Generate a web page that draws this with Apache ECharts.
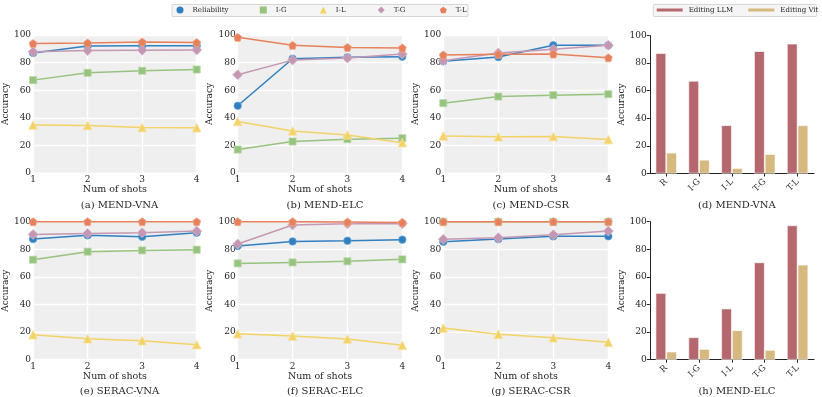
<!DOCTYPE html>
<html><head><meta charset="utf-8">
<script src="https://cdn.jsdelivr.net/npm/echarts@6/dist/echarts.min.js"></script>
<style>html,body{margin:0;padding:0;background:#fff}#c{width:822px;height:397px}</style>
</head><body><div id="c"></div>
<script>
// ---- data ----
const shots = [1, 2, 3, 4];
const seriesNames = ['Reliability', 'I-G', 'I-L', 'T-G', 'T-L'];
const barCats = ['R', 'I-G', 'I-L', 'T-G', 'T-L'];
const barNames = ['Editing LLM', 'Editing Vit'];
const yTicks = [0, 20, 40, 60, 80, 100];

// (a) MEND-VNA
const aRel = [87, 92, 92.3, 92.3];
const aIG  = [67.3, 72.6, 74.1, 75];
const aIL  = [34.8, 34.5, 33, 32.8];
const aTG  = [87.8, 88.7, 89, 89.2];
const aTL  = [93.8, 94.2, 94.9, 94.5];
// (b) MEND-ELC
const bRel = [48.7, 82.8, 83.8, 84.3];
const bIG  = [17, 22.8, 24.5, 25.2];
const bIL  = [37.3, 30.5, 27.6, 22];
const bTG  = [71.2, 81.8, 83.3, 86.2];
const bTL  = [98.3, 92.5, 91, 90.6];
// (c) MEND-CSR
const cRel = [81, 84, 92.5, 92.5];
const cIG  = [50.6, 55.4, 56.4, 57.1];
const cIL  = [26.9, 26.2, 26.4, 24.2];
const cTG  = [81.4, 86.9, 89.6, 92.5];
const cTL  = [85.5, 86, 86.2, 83.5];
// (e) SERAC-VNA
const eRel = [87.4, 90.1, 89.1, 92];
const eIG  = [72.5, 78.3, 79.2, 79.7];
const eIL  = [18.1, 15.2, 13.8, 10.9];
const eTG  = [90.8, 91.5, 92, 93.2];
const eTL  = [100, 100, 100, 100];
// (f) SERAC-ELC
const fRel = [82.4, 85.7, 86.2, 87];
const fIG  = [69.8, 70.5, 71.3, 72.7];
const fIL  = [18.8, 17.1, 15, 10.4];
const fTG  = [83.8, 97.6, 98.5, 98.5];
const fTL  = [100, 100, 99.8, 99.5];
// (g) SERAC-CSR
const gRel = [85.5, 87.4, 89.4, 89.4];
const gIG  = [100, 100, 100, 100];
const gIL  = [22.9, 18.4, 15.9, 12.6];
const gTG  = [87.2, 88.4, 90.6, 93.2];
const gTL  = [100, 100, 100, 100];
// (d) MEND-VNA bars
const dLLM = [87.2, 67.1, 34.9, 88.6, 94];
const dVit = [15, 9.9, 3.9, 14, 34.9];
// (h) MEND-ELC bars
const hLLM = [48.3, 16.2, 37, 70.5, 97.3];
const hVit = [5.8, 7.7, 21.3, 7, 68.8];

// ---- styling ----
const FONT = 'DejaVu Serif';
const TXT = '#262626';
const lineColors = ['#2F7FC1', '#96C37D', '#F3D266', '#C497B2', '#E7815B'];
const edgeColors = ['#6aa3d6', '#b5d6a3', '#f7e09a', '#d8b8cb', '#efa589'];
const barColors = ['#B4686E', '#D5B97F'];
const PENT = 'path://M0,-10 L9.51,-3.09 L5.88,8.09 L-5.88,8.09 L-9.51,-3.09 Z';
const symbols = ['circle', 'rect', 'triangle', 'diamond', PENT];
const symSizes = [7.5, 7, 8.5, 10, 8];

const lineGrids = [
  {l: 32.3, t: 35, w: 164.4, title: '(a) MEND-VNA', data: [aRel, aIG, aIL, aTG, aTL]},
  {l: 237.7, t: 35, w: 164.6, title: '(b) MEND-ELC', data: [bRel, bIG, bIL, bTG, bTL]},
  {l: 443.3, t: 35, w: 165, title: '(c) MEND-CSR', data: [cRel, cIG, cIL, cTG, cTL]},
  {l: 32.3, t: 221.7, w: 164.4, title: '(e) SERAC-VNA', data: [eRel, eIG, eIL, eTG, eTL]},
  {l: 237.7, t: 221.7, w: 164.6, title: '(f) SERAC-ELC', data: [fRel, fIG, fIL, fTG, fTL]},
  {l: 443.3, t: 221.7, w: 165, title: '(g) SERAC-CSR', data: [gRel, gIG, gIL, gTG, gTL]}
];
const barGrids = [
  {l: 649.8, t: 35.5, w: 164.2, title: '(d) MEND-VNA', data: [dLLM, dVit]},
  {l: 649.8, t: 221.7, w: 164.2, title: '(h) MEND-ELC', data: [hLLM, hVit]}
];
const H = 138;

const grid = [], xAxis = [], yAxis = [], series = [], title = [];
lineGrids.forEach((g, i) => {
  grid.push({left: g.l, top: g.t, width: g.w, height: H, show: true, backgroundColor: '#efefef', borderWidth: 0});
  xAxis.push({type: 'value', gridIndex: i, min: 1, max: 4, interval: 1,
    name: 'Num of shots', nameLocation: 'middle', nameGap: 10,
    nameTextStyle: {fontFamily: FONT, fontSize: 9.5, color: TXT},
    axisLine: {show: false}, axisTick: {show: false},
    axisLabel: {fontFamily: FONT, fontSize: 9, color: TXT, margin: 2},
    splitLine: {show: true, lineStyle: {color: '#ffffff', width: 1.4}}});
  yAxis.push({type: 'value', gridIndex: i, min: 0, max: 100, interval: 20,
    name: 'Accuracy', nameLocation: 'middle', nameGap: 17,
    nameTextStyle: {fontFamily: FONT, fontSize: 9, color: TXT},
    axisLine: {show: false}, axisTick: {show: false},
    axisLabel: {fontFamily: FONT, fontSize: 9, color: TXT, margin: 2},
    splitLine: {show: true, lineStyle: {color: '#ffffff', width: 1.4}}});
  g.data.forEach((vals, k) => {
    series.push({type: 'line', name: seriesNames[k], xAxisIndex: i, yAxisIndex: i,
      data: shots.map((s, j) => [s, vals[j]]),
      symbol: symbols[k], symbolSize: symSizes[k], showSymbol: true,
      lineStyle: {color: lineColors[k], width: 1.5},
      itemStyle: {color: lineColors[k], borderColor: edgeColors[k], borderWidth: 0.8},
      emphasis: {disabled: true}, animation: false, z: 2 + k});
  });
  title.push({text: g.title, left: g.l + g.w / 2, top: g.t + H + 22, textAlign: 'center',
    textStyle: {fontFamily: FONT, fontSize: 10, fontWeight: 'normal', color: TXT}});
});
barGrids.forEach((g, bi) => {
  const i = lineGrids.length + bi;
  grid.push({left: g.l, top: g.t, width: g.w, height: H, show: false});
  xAxis.push({type: 'category', gridIndex: i, data: barCats,
    axisLine: {show: true, lineStyle: {color: '#222', width: 1}},
    axisTick: {show: true, alignWithLabel: true, length: 3, lineStyle: {color: '#222'}},
    axisLabel: {fontFamily: FONT, fontSize: 8.5, color: TXT, rotate: 45, margin: 7},
    splitLine: {show: false}});
  yAxis.push({type: 'value', gridIndex: i, min: 0, max: 100, interval: 20,
    name: 'Accuracy', nameLocation: 'middle', nameGap: 21,
    nameTextStyle: {fontFamily: FONT, fontSize: 9, color: TXT},
    axisLine: {show: true, lineStyle: {color: '#222', width: 1}},
    axisTick: {show: true, length: 3, lineStyle: {color: '#222'}},
    axisLabel: {fontFamily: FONT, fontSize: 9, color: TXT, margin: 3},
    splitLine: {show: false}});
  g.data.forEach((vals, k) => {
    series.push({type: 'bar', name: barNames[k], xAxisIndex: i, yAxisIndex: i, data: vals,
      barWidth: 10.5, barGap: '2%',
      itemStyle: {color: barColors[k], borderColor: '#ffffff', borderWidth: 0.6},
      emphasis: {disabled: true}, animation: false});
  });
  title.push({text: g.title, left: g.l + g.w / 2, top: g.t + H + 22, textAlign: 'center',
    textStyle: {fontFamily: FONT, fontSize: 10, fontWeight: 'normal', color: TXT}});
});

// legends
const legTxt = {fontFamily: FONT, fontSize: 7, color: TXT};
const legend = [];
const lineLegendX = [176.5, 259.8, 319.8, 377.7, 439.8];
seriesNames.forEach((n, k) => {
  legend.push({left: lineLegendX[k], top: 6.5, padding: 0, itemWidth: 7, itemHeight: 7,
    selectedMode: false, z: 10,
    data: [{name: n, icon: symbols[k], itemStyle: {color: lineColors[k], borderWidth: 0}}],
    textStyle: Object.assign({padding: [0, 0, 0, 4]}, legTxt)});
});
const barLegendX = [656.7, 748.3];
barNames.forEach((n, k) => {
  legend.push({left: barLegendX[k], top: 6.5, padding: 0, itemWidth: 26, itemHeight: 3,
    selectedMode: false, z: 10,
    data: [{name: n, icon: 'rect', itemStyle: {color: barColors[k], borderWidth: 0}}],
    textStyle: Object.assign({padding: [0, 0, 0, 1]}, legTxt)});
});

const graphic = [
  {type: 'rect', shape: {x: 172, y: 4.5, width: 296, height: 12, r: 1}, z: 0,
    style: {fill: '#f5f5f5', stroke: '#cccccc', lineWidth: 0.8}},
  {type: 'rect', shape: {x: 653.3, y: 4.5, width: 163.4, height: 12, r: 1}, z: 0,
    style: {fill: '#f5f5f5', stroke: '#cccccc', lineWidth: 0.8}}
];

const chart = echarts.init(document.getElementById('c'), null, {renderer: 'canvas'});
chart.setOption({animation: false, backgroundColor: '#ffffff', grid, xAxis, yAxis, series, title, legend, graphic,
  textStyle: {fontFamily: FONT}});
</script></body></html>
